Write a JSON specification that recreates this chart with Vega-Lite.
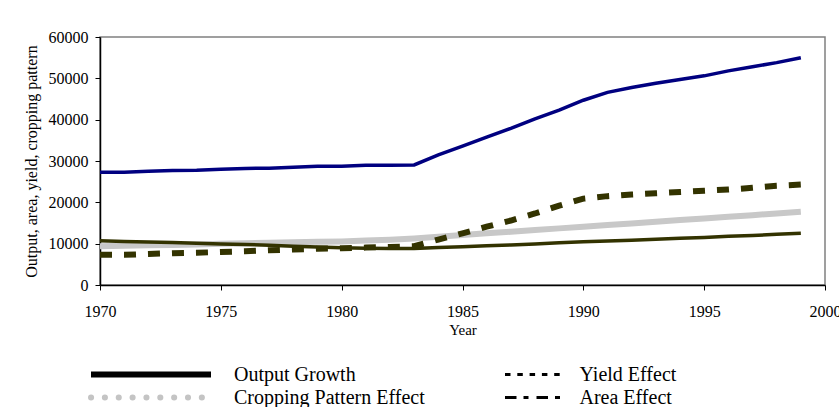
{
  "$schema": "https://vega.github.io/schema/vega-lite/v6.json",
  "width": 725,
  "height": 248,
  "autosize": "none",
  "padding": {"left": 100, "top": 37, "right": 14, "bottom": 122},
  "background": "white",
  "config": {
    "font": "Liberation Serif",
    "view": {"stroke": "#808080", "strokeWidth": 1.5},
    "axis": {
      "labelFont": "Liberation Serif",
      "titleFont": "Liberation Serif",
      "labelColor": "black",
      "titleColor": "black",
      "domainColor": "black",
      "tickColor": "black",
      "domainWidth": 1.5,
      "tickWidth": 1,
      "tickSize": 5,
      "grid": false,
      "titleFontWeight": "normal"
    },
    "legend": {
      "labelFont": "Liberation Serif",
      "labelFontSize": 20,
      "labelColor": "black",
      "labelLimit": 400
    }
  },
  "data": {
    "values": [
      {"year": 1970, "series": "Output Growth", "value": 27300},
      {"year": 1971, "series": "Output Growth", "value": 27300},
      {"year": 1972, "series": "Output Growth", "value": 27500},
      {"year": 1973, "series": "Output Growth", "value": 27700},
      {"year": 1974, "series": "Output Growth", "value": 27750},
      {"year": 1975, "series": "Output Growth", "value": 28000},
      {"year": 1976, "series": "Output Growth", "value": 28200},
      {"year": 1977, "series": "Output Growth", "value": 28250},
      {"year": 1978, "series": "Output Growth", "value": 28500},
      {"year": 1979, "series": "Output Growth", "value": 28700},
      {"year": 1980, "series": "Output Growth", "value": 28750},
      {"year": 1981, "series": "Output Growth", "value": 29000},
      {"year": 1982, "series": "Output Growth", "value": 29000},
      {"year": 1983, "series": "Output Growth", "value": 29050},
      {"year": 1984, "series": "Output Growth", "value": 31500},
      {"year": 1985, "series": "Output Growth", "value": 33600},
      {"year": 1986, "series": "Output Growth", "value": 35800},
      {"year": 1987, "series": "Output Growth", "value": 37900},
      {"year": 1988, "series": "Output Growth", "value": 40200},
      {"year": 1989, "series": "Output Growth", "value": 42300},
      {"year": 1990, "series": "Output Growth", "value": 44700},
      {"year": 1991, "series": "Output Growth", "value": 46600},
      {"year": 1992, "series": "Output Growth", "value": 47800},
      {"year": 1993, "series": "Output Growth", "value": 48800},
      {"year": 1994, "series": "Output Growth", "value": 49700},
      {"year": 1995, "series": "Output Growth", "value": 50600},
      {"year": 1996, "series": "Output Growth", "value": 51800},
      {"year": 1997, "series": "Output Growth", "value": 52800},
      {"year": 1998, "series": "Output Growth", "value": 53800},
      {"year": 1999, "series": "Output Growth", "value": 55000},
      {"year": 1970, "series": "Yield Effect", "value": 7300},
      {"year": 1971, "series": "Yield Effect", "value": 7300},
      {"year": 1972, "series": "Yield Effect", "value": 7500},
      {"year": 1973, "series": "Yield Effect", "value": 7700},
      {"year": 1974, "series": "Yield Effect", "value": 7800},
      {"year": 1975, "series": "Yield Effect", "value": 8000},
      {"year": 1976, "series": "Yield Effect", "value": 8150},
      {"year": 1977, "series": "Yield Effect", "value": 8400},
      {"year": 1978, "series": "Yield Effect", "value": 8600},
      {"year": 1979, "series": "Yield Effect", "value": 8750},
      {"year": 1980, "series": "Yield Effect", "value": 8900},
      {"year": 1981, "series": "Yield Effect", "value": 9050},
      {"year": 1982, "series": "Yield Effect", "value": 9200},
      {"year": 1983, "series": "Yield Effect", "value": 9400},
      {"year": 1984, "series": "Yield Effect", "value": 11000},
      {"year": 1985, "series": "Yield Effect", "value": 12500},
      {"year": 1986, "series": "Yield Effect", "value": 14100},
      {"year": 1987, "series": "Yield Effect", "value": 15600},
      {"year": 1988, "series": "Yield Effect", "value": 17300},
      {"year": 1989, "series": "Yield Effect", "value": 19200},
      {"year": 1990, "series": "Yield Effect", "value": 20900},
      {"year": 1991, "series": "Yield Effect", "value": 21500},
      {"year": 1992, "series": "Yield Effect", "value": 21900},
      {"year": 1993, "series": "Yield Effect", "value": 22200},
      {"year": 1994, "series": "Yield Effect", "value": 22500},
      {"year": 1995, "series": "Yield Effect", "value": 22800},
      {"year": 1996, "series": "Yield Effect", "value": 23100},
      {"year": 1997, "series": "Yield Effect", "value": 23500},
      {"year": 1998, "series": "Yield Effect", "value": 24000},
      {"year": 1999, "series": "Yield Effect", "value": 24300},
      {"year": 1970, "series": "Area Effect", "value": 10700},
      {"year": 1971, "series": "Area Effect", "value": 10550},
      {"year": 1972, "series": "Area Effect", "value": 10400},
      {"year": 1973, "series": "Area Effect", "value": 10300},
      {"year": 1974, "series": "Area Effect", "value": 10100},
      {"year": 1975, "series": "Area Effect", "value": 9900},
      {"year": 1976, "series": "Area Effect", "value": 9800},
      {"year": 1977, "series": "Area Effect", "value": 9600},
      {"year": 1978, "series": "Area Effect", "value": 9400},
      {"year": 1979, "series": "Area Effect", "value": 9200},
      {"year": 1980, "series": "Area Effect", "value": 9000},
      {"year": 1981, "series": "Area Effect", "value": 8900},
      {"year": 1982, "series": "Area Effect", "value": 8850},
      {"year": 1983, "series": "Area Effect", "value": 8850},
      {"year": 1984, "series": "Area Effect", "value": 9050},
      {"year": 1985, "series": "Area Effect", "value": 9250},
      {"year": 1986, "series": "Area Effect", "value": 9500},
      {"year": 1987, "series": "Area Effect", "value": 9700},
      {"year": 1988, "series": "Area Effect", "value": 9900},
      {"year": 1989, "series": "Area Effect", "value": 10200},
      {"year": 1990, "series": "Area Effect", "value": 10450},
      {"year": 1991, "series": "Area Effect", "value": 10650},
      {"year": 1992, "series": "Area Effect", "value": 10850},
      {"year": 1993, "series": "Area Effect", "value": 11050},
      {"year": 1994, "series": "Area Effect", "value": 11300},
      {"year": 1995, "series": "Area Effect", "value": 11500},
      {"year": 1996, "series": "Area Effect", "value": 11800},
      {"year": 1997, "series": "Area Effect", "value": 12000},
      {"year": 1998, "series": "Area Effect", "value": 12250},
      {"year": 1999, "series": "Area Effect", "value": 12500},
      {"year": 1970, "series": "Cropping Pattern Effect", "value": 9400},
      {"year": 1971, "series": "Cropping Pattern Effect", "value": 9500},
      {"year": 1972, "series": "Cropping Pattern Effect", "value": 9600},
      {"year": 1973, "series": "Cropping Pattern Effect", "value": 9700},
      {"year": 1974, "series": "Cropping Pattern Effect", "value": 9800},
      {"year": 1975, "series": "Cropping Pattern Effect", "value": 9950},
      {"year": 1976, "series": "Cropping Pattern Effect", "value": 10100},
      {"year": 1977, "series": "Cropping Pattern Effect", "value": 10200},
      {"year": 1978, "series": "Cropping Pattern Effect", "value": 10350},
      {"year": 1979, "series": "Cropping Pattern Effect", "value": 10450},
      {"year": 1980, "series": "Cropping Pattern Effect", "value": 10550},
      {"year": 1981, "series": "Cropping Pattern Effect", "value": 10750},
      {"year": 1982, "series": "Cropping Pattern Effect", "value": 10950},
      {"year": 1983, "series": "Cropping Pattern Effect", "value": 11250},
      {"year": 1984, "series": "Cropping Pattern Effect", "value": 11650},
      {"year": 1985, "series": "Cropping Pattern Effect", "value": 12100},
      {"year": 1986, "series": "Cropping Pattern Effect", "value": 12500},
      {"year": 1987, "series": "Cropping Pattern Effect", "value": 12900},
      {"year": 1988, "series": "Cropping Pattern Effect", "value": 13300},
      {"year": 1989, "series": "Cropping Pattern Effect", "value": 13700},
      {"year": 1990, "series": "Cropping Pattern Effect", "value": 14100},
      {"year": 1991, "series": "Cropping Pattern Effect", "value": 14500},
      {"year": 1992, "series": "Cropping Pattern Effect", "value": 14900},
      {"year": 1993, "series": "Cropping Pattern Effect", "value": 15300},
      {"year": 1994, "series": "Cropping Pattern Effect", "value": 15700},
      {"year": 1995, "series": "Cropping Pattern Effect", "value": 16100},
      {"year": 1996, "series": "Cropping Pattern Effect", "value": 16500},
      {"year": 1997, "series": "Cropping Pattern Effect", "value": 16900},
      {"year": 1998, "series": "Cropping Pattern Effect", "value": 17300},
      {"year": 1999, "series": "Cropping Pattern Effect", "value": 17700}
    ]
  },
  "encoding": {
    "x": {
      "field": "year",
      "type": "quantitative",
      "scale": {"domain": [1970, 2000], "nice": false, "zero": false},
      "axis": {
        "title": "Year",
        "values": [1970, 1975, 1980, 1985, 1990, 1995, 2000],
        "format": "d",
        "labelFontSize": 16,
        "labelPadding": 13,
        "titleFontSize": 15,
        "titlePadding": 3,
        "labelFlush": false,
        "labelOverlap": false
      }
    },
    "y": {
      "field": "value",
      "type": "quantitative",
      "scale": {"domain": [0, 60000], "nice": false},
      "axis": {
        "title": "Output, area, yield, cropping pattern",
        "values": [0, 10000, 20000, 30000, 40000, 50000, 60000],
        "format": "d",
        "labelFontSize": 16,
        "labelPadding": 7,
        "titleFontSize": 16,
        "titlePadding": 9,
        "labelOverlap": false
      }
    }
  },
  "layer": [
    {
      "encoding": {
        "opacity": {
          "field": "series",
          "type": "ordinal",
          "scale": {"domain": ["Output Growth", "Cropping Pattern Effect"], "range": [1, 1]},
          "legend": {
            "title": null,
            "orient": "none",
            "legendX": -12,
            "legendY": 326,
            "padding": 0,
            "symbolType": "stroke",
            "symbolSize": 14400,
            "symbolStrokeWidth": 6,
            "symbolStrokeColor": "black",
            "labelOffset": 20,
            "clipHeight": 23,
            "rowPadding": 0,
            "encode": {
              "symbols": {
                "update": {
                  "stroke": {"signal": "datum.value === 'Output Growth' ? 'black' : '#c4c4c4'"},
                  "strokeDash": {"signal": "datum.value === 'Output Growth' ? [1, 0] : [0.1, 13.75]"},
                  "strokeCap": {"signal": "datum.value === 'Output Growth' ? 'butt' : 'round'"},
                  "strokeWidth": {"value": 6}
                }
              }
            }
          }
        }
      },
      "layer": [
        {
          "transform": [{"filter": "datum.series === 'Cropping Pattern Effect'"}],
          "mark": {"type": "line", "strokeWidth": 6, "color": "#c8c8c8"}
        },
        {
          "transform": [{"filter": "datum.series === 'Output Growth'"}],
          "mark": {"type": "line", "strokeWidth": 3.5, "color": "#000080"}
        }
      ]
    },
    {
      "encoding": {
        "opacity": {
          "field": "series",
          "type": "ordinal",
          "scale": {"domain": ["Yield Effect", "Area Effect"], "range": [1, 1]},
          "legend": {
            "title": null,
            "orient": "none",
            "legendX": 403.5,
            "legendY": 326,
            "padding": 0,
            "symbolType": "stroke",
            "symbolSize": 3025,
            "symbolStrokeWidth": 3,
            "symbolStrokeColor": "black",
            "labelOffset": 18,
            "clipHeight": 23,
            "rowPadding": 0,
            "encode": {
              "symbols": {
                "update": {
                  "stroke": {"value": "black"},
                  "strokeDash": {"signal": "datum.value === 'Yield Effect' ? [5.5, 6.8] : [11.5, 7, 5, 8]"},
                  "strokeWidth": {"value": 3}
                }
              }
            }
          }
        }
      },
      "layer": [
        {
          "transform": [{"filter": "datum.series === 'Area Effect'"}],
          "mark": {"type": "line", "strokeWidth": 3.5, "color": "#333300"}
        },
        {
          "transform": [{"filter": "datum.series === 'Yield Effect'"}],
          "mark": {"type": "line", "strokeWidth": 6, "color": "#333300", "strokeDash": [12, 12]}
        }
      ]
    }
  ],
  "resolve": {
    "scale": {"opacity": "independent"},
    "legend": {"opacity": "independent"}
  }
}
